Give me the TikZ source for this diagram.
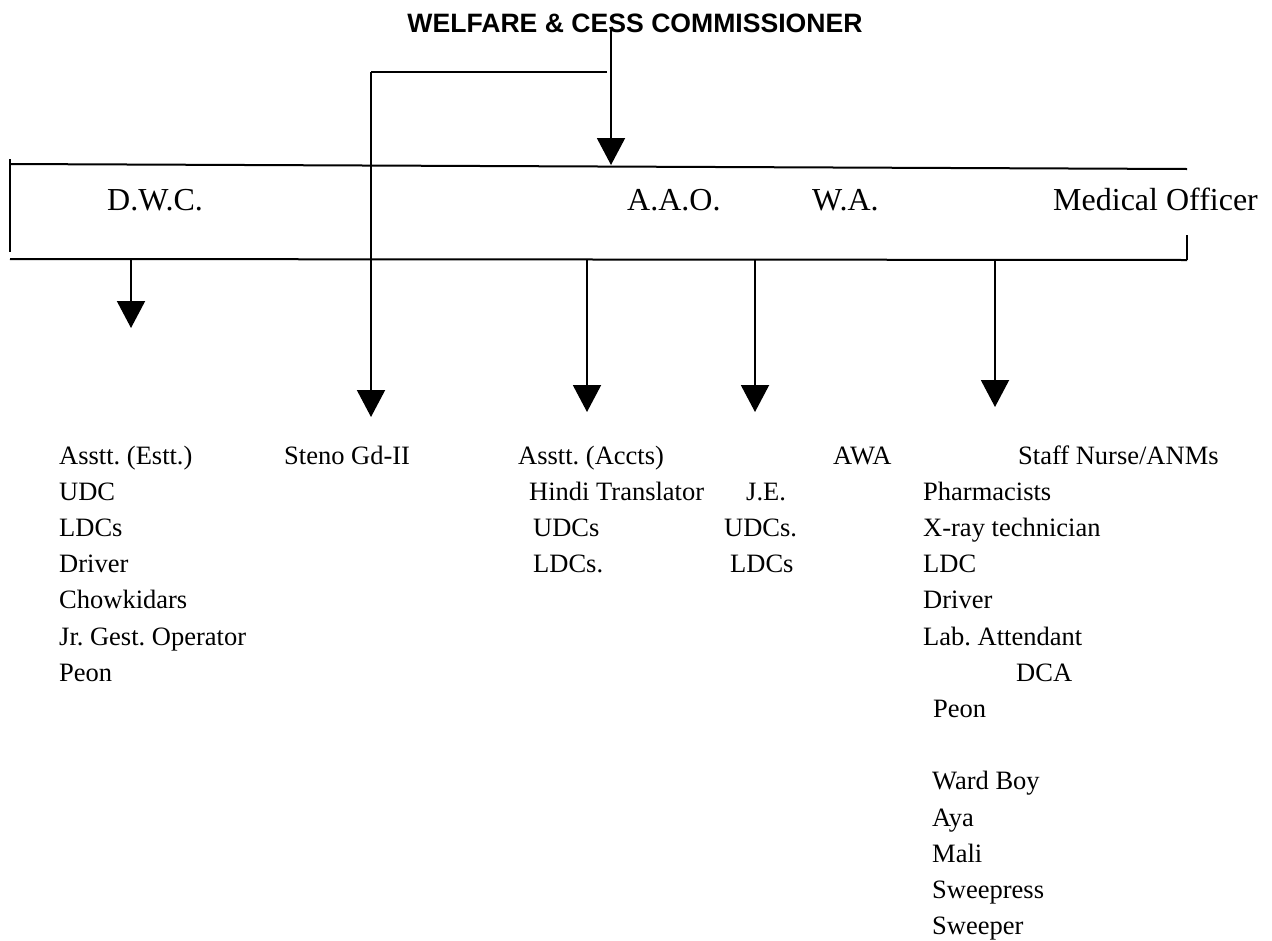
\documentclass[tikz,border=0pt]{standalone}
\usepackage{fontspec}
\setmainfont{Liberation Serif}
\newfontfamily\headfont{Liberation Sans}
\usetikzlibrary{arrows.meta}
\frenchspacing

\begin{document}
\begin{tikzpicture}[x = 1pt, y = -1pt]
\tikzstyle{HeadStyle}=[font = \headfont\bfseries\fontsize{26.6}{30}\selectfont,
                       inner sep = 0pt, anchor = base]
\tikzstyle{PostStyle}=[font = \fontsize{32}{36}\selectfont,
                       inner sep = 0pt, anchor = base west]
\tikzstyle{StaffStyle}=[font = \fontsize{26.5}{30}\selectfont,
                        inner sep = 0pt, anchor = base west]
\tikzstyle{LinkStyle}=[line width = 2pt]
\tikzstyle{DownStyle}=[line width = 2pt, -{Triangle[width = 28pt, length = 27pt]}]
\useasboundingbox (0,0) rectangle (1272,940);
% head and posts
\node[HeadStyle] (wcc) at (635, 32) {WELFARE \& CESS COMMISSIONER};
\node[PostStyle] (dwc) at (107, 210.5) {D.W.C.};
\node[PostStyle] (aao) at (627, 210.5) {A.A.O.};
\node[PostStyle] (wa) at (812, 210.5) {W.A.};
\node[PostStyle] (mo) at (1053, 210.5) {Medical Officer};
% staff under D.W.C.
\node[StaffStyle] (d0) at (59, 464) {Asstt. (Estt.)};
\node[StaffStyle] (d1) at (59, 500.2) {UDC};
\node[StaffStyle] (d2) at (59, 536.4) {LDCs};
\node[StaffStyle] (d3) at (59, 572.6) {Driver};
\node[StaffStyle] (d4) at (59, 608.8) {Chowkidars};
\node[StaffStyle] (d5) at (59, 645) {Jr. Gest. Operator};
\node[StaffStyle] (d6) at (59, 681.2) {Peon};
\node[StaffStyle] (steno) at (284, 464) {Steno Gd-II};
% staff under A.A.O. and W.A.
\node[StaffStyle] (a0) at (518, 464) {Asstt. (Accts)};
\node[StaffStyle] (a1) at (529, 500.2) {Hindi Translator};
\node[StaffStyle] (a2) at (533, 536.4) {UDCs};
\node[StaffStyle] (a3) at (533, 572.6) {LDCs.};
\node[StaffStyle] (w0) at (833, 464) {AWA};
\node[StaffStyle] (w1) at (746, 500.2) {J.E.};
\node[StaffStyle] (w2) at (724, 536.4) {UDCs.};
\node[StaffStyle] (w3) at (730, 572.6) {LDCs};
% staff under Medical Officer
\node[StaffStyle] (m0) at (1018, 464) {Staff Nurse/ANMs};
\node[StaffStyle] (m1) at (923, 500.2) {Pharmacists};
\node[StaffStyle] (m2) at (923, 536.4) {X-ray technician};
\node[StaffStyle] (m3) at (923, 572.6) {LDC};
\node[StaffStyle] (m4) at (923, 608.8) {Driver};
\node[StaffStyle] (m5) at (923, 645) {Lab. Attendant};
\node[StaffStyle] (m6) at (1016, 681.2) {DCA};
\node[StaffStyle] (m7) at (933, 717.4) {Peon};
\node[StaffStyle] (m9) at (932, 789.8) {Ward Boy};
\node[StaffStyle] (m10) at (932, 826) {Aya};
\node[StaffStyle] (m11) at (932, 862.2) {Mali};
\node[StaffStyle] (m12) at (932, 898.4) {Sweepress};
\node[StaffStyle] (m13) at (932, 934.6) {Sweeper};
% bar round the posts
\coordinate (tl) at (10, 164);
\coordinate (tr) at (1187, 169);
\coordinate (bl) at (10, 259);
\coordinate (br) at (1187, 260);
\draw[LinkStyle] (tl) -- (tr);
\draw[LinkStyle] (bl) -- (br);
\draw[LinkStyle] (10, 159) -- (10, 252);
\draw[LinkStyle] (1187, 235) -- (br);
% arrows
\coordinate (wccfoot) at (611, 30);
\coordinate (split) at (607, 72);
\coordinate (stenotop) at (371, 72);
\draw[DownStyle] (wccfoot) -- (611, 165);
\draw[LinkStyle] (split) -- (stenotop);
\draw[DownStyle] (stenotop) -- (371, 417);
\draw[DownStyle] (131, 259) -- (131, 328);
\draw[DownStyle] (587, 260) -- (587, 412);
\draw[DownStyle] (755, 260) -- (755, 412);
\draw[DownStyle] (995, 260) -- (995, 407);
\end{tikzpicture}
\end{document}
